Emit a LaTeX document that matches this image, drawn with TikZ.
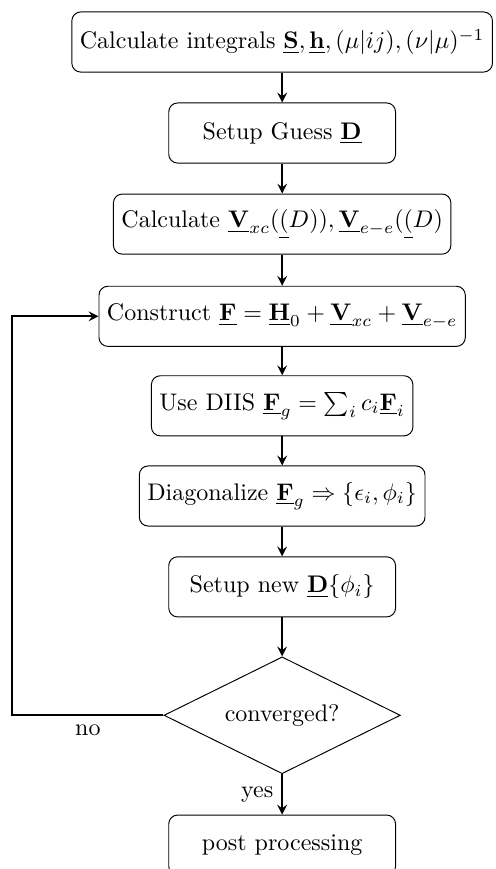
\documentclass[tikz,border=0pt]{standalone}
\usetikzlibrary{shapes.geometric}

\begin{document}
\begin{tikzpicture}[
        >=stealth,
        every node/.style={font=\normalsize},
        stepbox/.style={draw, thin, rounded corners=1.3mm,
            minimum width=3.32cm, minimum height=0.88cm},
        decide/.style={draw, thin, diamond, aspect=2,
            minimum width=3.46cm, minimum height=1.71cm, inner sep=0pt},
        flow/.style={->, thick}
    ]
    % Frame
    \useasboundingbox (0,0) rectangle (7.26,-12.72);

    % Steps
    \node[stepbox] (ints) at (4.13,-0.615)
      {Calculate integrals $\underline{\mathbf{S}},\underline{\mathbf{h}},(\mu|ij),(\nu|\mu)^{-1}$};
    \node[stepbox] (guess) at (4.13,-1.947) {Setup Guess $\underline{\mathbf{D}}$};
    \node[stepbox] (pot) at (4.13,-3.28)
      {Calculate $\underline{\mathbf{V}}_{xc}(\underline{(}D)),\underline{\mathbf{V}}_{e-e}(\underline{(}D)$};
    \node[stepbox] (fock) at (4.13,-4.63)
      {Construct $\underline{\mathbf{F}}=\underline{\mathbf{H}}_0+\underline{\mathbf{V}}_{xc}+\underline{\mathbf{V}}_{e-e}$};
    \node[stepbox] (diis) at (4.13,-5.94)
      {Use DIIS $\underline{\mathbf{F}}_g=\sum_i c_i\underline{\mathbf{F}}_i$};
    \node[stepbox] (diag) at (4.13,-7.26)
      {Diagonalize $\underline{\mathbf{F}}_g\Rightarrow\{\epsilon_i,\phi_i\}$};
    \node[stepbox] (dens) at (4.13,-8.59) {Setup new $\underline{\mathbf{D}}\{\phi_i\}$};

    % Check
    \node[decide] (conv) at (4.13,-10.47) {converged?};
    \node[stepbox] (post) at (4.13,-12.37) {post processing};

    % Arrows down
    \draw[flow] (ints) -- (guess);
    \draw[flow] (guess) -- (pot);
    \draw[flow] (pot) -- (fock);
    \draw[flow] (fock) -- (diis);
    \draw[flow] (diis) -- (diag);
    \draw[flow] (diag) -- (dens);
    \draw[flow] (dens) -- (conv);
    \draw[flow]
      (conv) -- (post)
      node[midway, left] {yes};

    % Loop back
    \coordinate (turn) at (0.18,0);
    \draw[flow]
      (conv.west) -- (conv.west -| turn)
      node[midway, below] {no}
      -- (fock.west -| turn) -- (fock.west);
\end{tikzpicture}
\end{document}
